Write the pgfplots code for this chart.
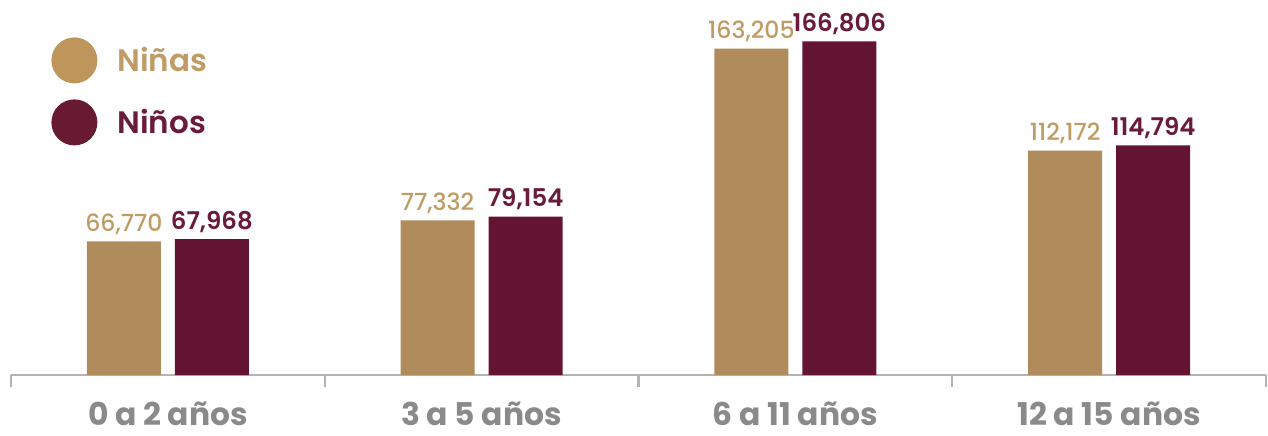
\documentclass[border=0pt]{standalone}
\usepackage{fontspec}
\setmainfont{Poppins}
\IfFontExistsTF{Poppins SemiBold}{\newfontfamily\sbfont{Poppins SemiBold}}{\newcommand\sbfont{\bfseries}}
\IfFontExistsTF{Poppins Medium}{\newfontfamily\mdfont{Poppins Medium}}{\newcommand\mdfont{}}
\usepackage{pgfplots}
\pgfplotsset{compat=1.18}
\definecolor{ninaBar}{RGB}{176,139,92}
\definecolor{ninoBar}{RGB}{98,20,50}
\definecolor{ninaTxt}{RGB}{192,155,102}
\definecolor{ninoTxt}{RGB}{106,26,58}
\definecolor{ninaDot}{RGB}{190,150,92}
\definecolor{ninoDot}{RGB}{104,26,48}
\definecolor{catTxt}{RGB}{138,138,138}
\definecolor{axisGray}{RGB}{180,180,180}
\begin{document}
\begin{tikzpicture}[x=1pt,y=1pt]
\useasboundingbox (-5.5,-30) rectangle (628.5,187.5);
\begin{axis}[
  at={(0,0)}, anchor=south west,
  scale only axis, width=627.5pt, height=187.5pt,
  xmin=-0.5, xmax=3.5, ymin=0, ymax=187500,
  clip=false,
  axis y line=none, axis x line=bottom,
  x axis line style={-, axisGray, line width=1.1pt},
  xtick={0,1,2,3},
  xticklabels={0 a 2 años,3 a 5 años,6 a 11 años,12 a 15 años},
  minor xtick={-0.5,0.5,1.5,2.5,3.5},
  tick align=outside,
  major tick length=0pt, minor tick length=6pt,
  minor tick style={axisGray, line width=1.1pt},
  xticklabel style={font=\bfseries\fontsize{15.7}{16}\selectfont, text=catTxt, anchor=base, yshift=-25pt},
  ybar, bar width=37pt,
  /pgf/number format/.cd, 1000 sep={,}, fixed, precision=0, assume math mode=true, /pgfplots/.cd,
  legend style={at={(rel axis cs:0,1)}, xshift=20pt, yshift=-18.5pt, anchor=north west,
    draw=none, fill=none, inner sep=0pt, row sep=8pt, column sep=8pt,
    font=\sbfont\fontsize{15.5}{15.5}\selectfont, cells={anchor=west}},
]
\addplot[fill=ninaBar, draw=none, bar shift=-22pt,
  nodes near coords,
  nodes near coords style={text=ninaTxt, font=\mdfont\fontsize{11.8}{12}\selectfont, anchor=base, yshift=5pt, inner sep=0pt},
  legend image code/.code={\fill[ninaDot] (11.5pt,0pt) circle (11.5pt);}]
  coordinates {(0,66770) (1,77332) (2,163205) (3,112172)};
\addlegendentry{\textcolor{ninaTxt}{Niñas}}
\addplot[fill=ninoBar, draw=none, bar shift=22pt,
  nodes near coords,
  nodes near coords style={text=ninoTxt, font=\sbfont\fontsize{12.2}{12.5}\selectfont, anchor=base, yshift=5pt, inner sep=0pt},
  legend image code/.code={\fill[ninoDot] (11.5pt,0pt) circle (11.5pt);}]
  coordinates {(0,67968) (1,79154) (2,166806) (3,114794)};
\addlegendentry{\textcolor{ninoTxt}{Niños}}
\end{axis}
\end{tikzpicture}
\end{document}
